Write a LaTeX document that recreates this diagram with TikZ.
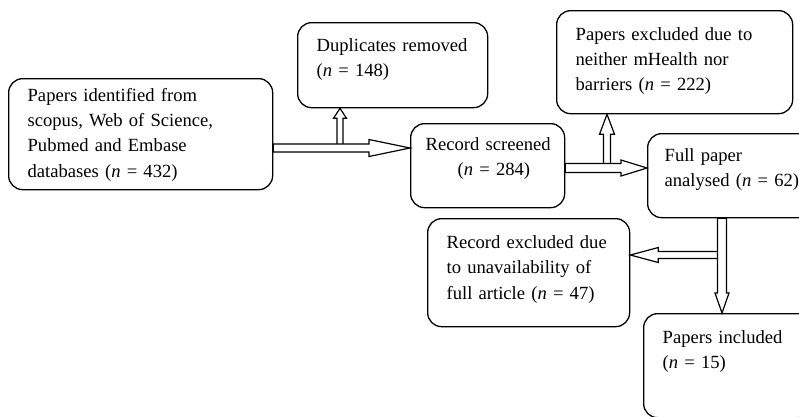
\documentclass[tikz,border=0pt]{standalone}
\usepackage{fontspec}
\setmainfont{Liberation Serif}
\usetikzlibrary{calc,positioning}

% hollow block arrow: start, end, half shaft, half head, head length
\newcommand{\hollowarrow}[5]{%
  \coordinate (ha-h) at ($(#2)!#5!(#1)$);
  \filldraw[arrowline] ($(#1)!#3!90:(#2)$) -- ($(ha-h)!#3!90:(#2)$)
    -- ($(ha-h)!#4!90:(#2)$) -- (#2) -- ($(ha-h)!#4!-90:(#2)$)
    -- ($(ha-h)!#3!-90:(#2)$) -- ($(#1)!#3!-90:(#2)$) -- cycle;
}

\tikzset{
  stage/.style={draw, line width=1.3pt, rounded corners=14pt, anchor=north west,
    inner xsep=19pt, inner ysep=0pt,
    font=\fontsize{18.6}{25.3}\selectfont,
    execute at begin node={\rightskip=0pt plus 1fil minus 500pt\relax}},
  arrowline/.style={line width=1.2pt, fill=white, draw=black, line join=miter}
}

\begin{document}
\begin{tikzpicture}[x=1pt,y=-1pt]
\useasboundingbox (0,0) rectangle (799,416);
\clip (0,0) rectangle (799,416);

\node[stage, text width=226pt, text height=22.5pt, text depth=88.5pt] (ident) at (8,78)
  {Papers identified from\\scopus, Web of Science,\\Pubmed and Embase\\databases (\textit{n} = 432)};
\node[stage, text width=152pt, text height=29pt, text depth=56pt] (dup) at (297,22)
  {Duplicates removed\\(\textit{n} = 148)};
\node[stage, inner xsep=15pt, text width=124pt, text height=27pt, text depth=57pt] (screen) at (410,123)
  {Record screened\\\hspace*{32pt}(\textit{n} = 284)};
\node[stage, text width=198pt, text height=29.5pt, text depth=73.5pt] (excl) at (556,10)
  {Papers excluded due to\\neither mHealth nor\\barriers (\textit{n} = 222)};
\node[stage, inner xsep=17pt, text width=134pt, text height=28pt, text depth=56pt] (full) at (647,133)
  {Full paper\\analysed (\textit{n} = 62)};
\node[stage, text width=164pt, text height=30pt, text depth=78pt] (unav) at (427,218)
  {Record excluded due\\to unavailability of\\full article (\textit{n} = 47)};
\node[stage, text width=130pt, text height=30pt, text depth=74pt] (incl) at (643,313)
  {Papers included\\(\textit{n} = 15)};

% junctions
\coordinate (j1) at (340,148);
\coordinate (j2) at (607,168);
\coordinate (j3) at (722,255);

\hollowarrow{j1}{dup.south -| j1}{3pt}{6.5pt}{10pt}
\hollowarrow{ident.east |- j1}{screen.west |- j1}{4pt}{8.5pt}{41pt}
\hollowarrow{j2}{excl.south -| j2}{3.5pt}{7.5pt}{20pt}
\hollowarrow{screen.east |- j2}{full.west |- j2}{4.5pt}{8pt}{26pt}
\hollowarrow{j3}{unav.east |- j3}{3.5pt}{7.5pt}{28pt}
\hollowarrow{full.south -| j3}{incl.north -| j3}{4.5pt}{7pt}{20pt}

\end{tikzpicture}
\end{document}
